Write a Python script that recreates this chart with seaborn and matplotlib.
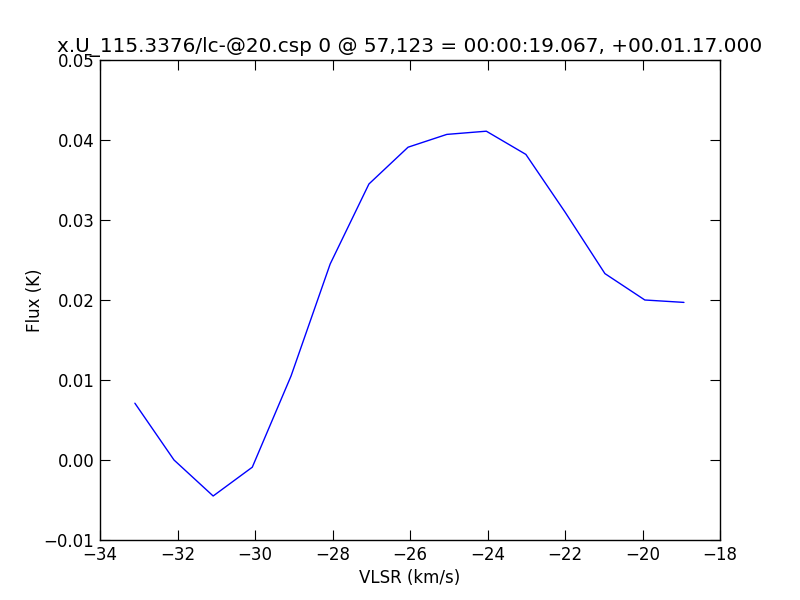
import matplotlib
matplotlib.use("Agg")
import matplotlib.pyplot as plt
import seaborn as sns
import pandas as pd

vlsr = [-33.10, -32.09, -31.08, -30.07, -29.07, -28.06, -27.06, -26.05,
        -25.05, -24.03, -23.01, -22.00, -20.97, -19.94, -18.93]
flux = [0.0071, 0.0000, -0.0045, -0.0009, 0.0105, 0.0245, 0.0345, 0.0391,
        0.0407, 0.0411, 0.0382, 0.0310, 0.0233, 0.0200, 0.0197]
title = "x.U_115.3376/lc-@20.csp 0 @ 57,123 = 00:00:19.067, +00.01.17.000"

sns.set_style("ticks")
plt.rcParams['font.family'] = ['DejaVu Sans']
plt.rcParams['xtick.direction'] = 'in'
plt.rcParams['ytick.direction'] = 'in'
plt.rcParams['text.color'] = 'black'
plt.rcParams['axes.labelcolor'] = 'black'

df = pd.DataFrame({"vlsr": vlsr, "flux": flux})

fig = plt.figure(figsize=(8, 6), dpi=100)
ax = fig.add_axes([0.125, 0.1, 0.775, 0.8])
sns.lineplot(data=df, x="vlsr", y="flux", color="blue", linewidth=1,
             sort=False, ax=ax)

ax.set_xlim(-34, -18)
ax.set_ylim(-0.01, 0.05)
ax.set_xticks(range(-34, -17, 2))
ax.set_yticks([-0.01, 0.0, 0.01, 0.02, 0.03, 0.04, 0.05])
ax.set_yticklabels(["\u22120.01", "0.00", "0.01", "0.02", "0.03", "0.04", "0.05"])
ax.tick_params(axis="both", which="both", top=True, right=True,
               length=7, width=0.8, labelsize=12, pad=4, colors="black")
for s in ax.spines.values():
    s.set_linewidth(1.0)
    s.set_color("black")

ax.set_xlabel("VLSR (km/s)", fontsize=12, color="black")
ax.set_ylabel("Flux (K)", fontsize=12, color="black", labelpad=0)
ax.set_title(title, fontsize=14.4, color="black")

fig.savefig("out.png", dpi=100, facecolor="white")
